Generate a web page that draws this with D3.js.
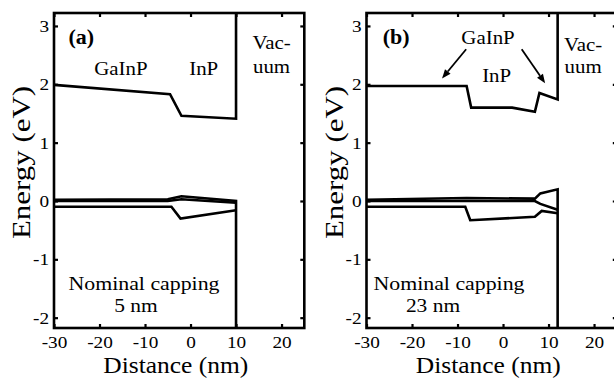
<!DOCTYPE html>
<html><head><meta charset="utf-8">
<script src="https://cdn.jsdelivr.net/npm/d3@7"></script>
<style>body{margin:0;background:#fff}svg{display:block}</style>
</head><body><svg id="c" width="614" height="383"></svg>
<script>
// ---- data ----
const xTicks = [-30, -20, -10, 0, 10, 20];
const yTicks = [-2, -1, 0, 1, 2, 3];
const xDomain = [-30, 25];
const yDomain = [-2.177, 3.222];
// panel (a): nominal capping 5 nm
const aCB = [[-30, 1.99], [-4.5, 1.83], [-2, 1.46], [10, 1.41], [10, 3.4]];
const aHH = [[-30, 0.02], [-5, 0.03], [-2, 0.08], [10, 0.0], [10, -2.4]];
const aLH = [[-30, 0.0], [-5, 0.0], [-2, 0.03], [10, -0.03]];
const aSO = [[-30, -0.1], [-4.2, -0.1], [-2.2, -0.3], [10, -0.16]];
// panel (b): nominal capping 23 nm
const bCB = [[-30, 1.97], [-8, 1.97], [-7, 1.6], [2, 1.6], [7, 1.53], [8, 1.85], [12, 1.74], [12, 3.4]];
const bHH = [[-30, 0.02], [-8, 0.05], [7, 0.04], [8.2, 0.13], [12, 0.2], [12, -2.4]];
const bLH = [[-30, 0.0], [-8, 0.0], [7, 0.0], [8.2, -0.05], [12, -0.15]];
const bSO = [[-30, -0.1], [-8.3, -0.1], [-7.2, -0.33], [7, -0.27], [8.5, -0.17], [12, -0.21]];

const panels = [
  {id: "a", label: "(a)", caps: ["Nominal capping", "5 nm"], lines: [aCB, aHH, aLH, aSO]},
  {id: "b", label: "(b)", caps: ["Nominal capping", "23 nm"], lines: [bCB, bHH, bLH, bSO]}
];

// ---- layout ----
const svg = d3.select("#c");
const FONT = '"Liberation Serif"';
const SX = 1.1;
const plotTop = 13, plotBottom = 328;
const lefts = [54, 366.5];
const pw = 250.3;

svg.append("rect").attr("width", 614).attr("height", 383).attr("fill", "#fff");

function txt(g, s, size) {
  return g.append("text").text(s)
    .style("font-family", FONT).style("font-size", size + "px").attr("fill", "#000");
}

panels.forEach((p, i) => {
  const L = lefts[i], R = L + pw;
  const x = d3.scaleLinear().domain(xDomain).range([L, R]);
  const y = d3.scaleLinear().domain(yDomain).range([plotBottom, plotTop]);
  const g = svg.append("g");

  g.append("clipPath").attr("id", "clip" + p.id)
    .append("rect").attr("x", L).attr("y", plotTop).attr("width", pw).attr("height", plotBottom - plotTop);

  const line = d3.line().x(d => x(d[0])).y(d => y(d[1]));
  g.append("g").attr("clip-path", `url(#clip${p.id})`)
    .selectAll("path").data(p.lines).join("path")
    .attr("d", line).attr("fill", "none").attr("stroke", "#000")
    .attr("stroke-width", 2.6).attr("stroke-linejoin", "miter");

  // axes (ticks inward on all four sides)
  const axB = g.append("g").attr("transform", `translate(0,${plotBottom})`)
    .call(d3.axisBottom(x).tickValues(xTicks).tickSize(-4).tickSizeOuter(0).tickPadding(8).tickFormat(d => String(d)));
  const axT = g.append("g").attr("transform", `translate(0,${plotTop})`)
    .call(d3.axisTop(x).tickValues(xTicks).tickSize(-4).tickSizeOuter(0).tickFormat(""));
  const axL = g.append("g").attr("transform", `translate(${L},0)`)
    .call(d3.axisLeft(y).tickValues(yTicks).tickSize(-4).tickSizeOuter(0).tickPadding(4.5).tickFormat(d => String(d)));
  const axR = g.append("g").attr("transform", `translate(${R},0)`)
    .call(d3.axisRight(y).tickValues(yTicks).tickSize(-4).tickSizeOuter(0).tickFormat(""));
  [axB, axT, axL, axR].forEach(a => {
    a.attr("font-family", null).attr("font-size", null);
    a.select(".domain").remove();
    a.selectAll("line").attr("stroke", "#000").attr("stroke-width", 2.2);
    a.selectAll("text").style("font-family", FONT).style("font-size", "17.5px").attr("fill", "#000")
      .attr("transform", `scale(${SX},1)`);
  });

  // frame
  g.append("rect").attr("x", L).attr("y", plotTop).attr("width", pw).attr("height", plotBottom - plotTop)
    .attr("fill", "none").attr("stroke", "#000").attr("stroke-width", 2.6);

  // axis titles
  txt(g, "Distance (nm)", 23)
    .attr("x", L + 121.8).attr("y", 373).attr("text-anchor", "middle")
    .attr("textLength", 145).attr("lengthAdjust", "spacingAndGlyphs");
  txt(g, "Energy (eV)", 26)
    .attr("transform", `translate(${L - 24},162.5) rotate(-90)`).attr("text-anchor", "middle")
    .attr("textLength", 153).attr("lengthAdjust", "spacingAndGlyphs");

  // panel label
  txt(g, p.label, 20)
    .attr("transform", `translate(${x(i === 0 ? -24 : -23.5)},44) scale(${SX},1)`)
    .attr("text-anchor", "middle").style("font-weight", "bold");

  // capping captions
  txt(g, p.caps[0], 19.5)
    .attr("x", L + 90 - (i === 0 ? 0 : 7.5)).attr("y", 290).attr("text-anchor", "middle")
    .attr("textLength", 151).attr("lengthAdjust", "spacingAndGlyphs");
  txt(g, p.caps[1], 19.5)
    .attr("transform", `translate(${L + 82 - (i === 0 ? 0 : 15.5)},311.5) scale(${SX},1)`)
    .attr("text-anchor", "middle");

  // region labels
  const words = i === 0
    ? [["GaInP", -15.3, 75], ["InP", 2.9, 75], ["Vac-", 17.8, 48.5], ["uum", 17.8, 73]]
    : [["GaInP", -3.3, 43.5], ["InP", -1.4, 81.5], ["Vac-", 17.6, 50.5], ["uum", 17.6, 73]];
  words.forEach(w => {
    txt(g, w[0], 19)
      .attr("transform", `translate(${x(w[1])},${w[2]}) scale(${SX},1)`)
      .attr("text-anchor", "middle");
  });

  // arrows (panel b)
  if (i === 1) {
    const arrows = [[[-8.1, 2.6], [-13.4, 2.1]], [[4.1, 2.6], [9.25, 2.02]]];
    arrows.forEach(a => {
      const x1 = x(a[0][0]), y1 = y(a[0][1]), x2 = x(a[1][0]), y2 = y(a[1][1]);
      const ang = Math.atan2(y2 - y1, x2 - x1);
      const hl = 9, hw = 3.6;
      const bx = x2 - hl * Math.cos(ang), by = y2 - hl * Math.sin(ang);
      g.append("line").attr("x1", x1).attr("y1", y1).attr("x2", bx).attr("y2", by)
        .attr("stroke", "#000").attr("stroke-width", 1.8);
      const px = -Math.sin(ang) * hw, py = Math.cos(ang) * hw;
      g.append("path")
        .attr("d", `M${x2},${y2}L${bx + px},${by + py}L${bx - px},${by - py}Z`)
        .attr("fill", "#000");
    });
  }
});
</script></body></html>
